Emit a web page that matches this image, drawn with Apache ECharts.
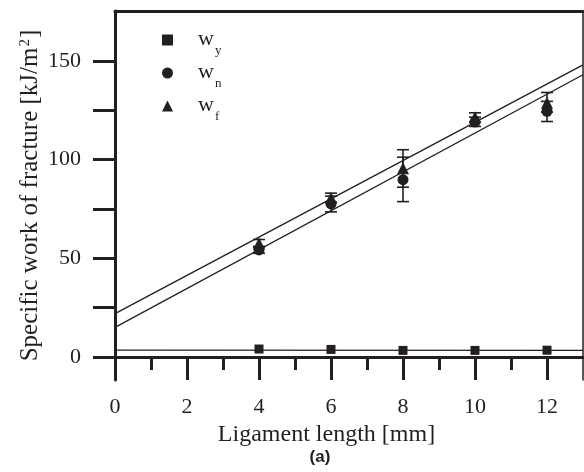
<!DOCTYPE html>
<html>
<head>
<meta charset="utf-8">
<script src="https://cdn.jsdelivr.net/npm/echarts@6/dist/echarts.min.js"></script>
<style>html,body{margin:0;padding:0;background:#fff;}#c{width:584px;height:472px;}</style>
</head>
<body>
<div id="c"></div>
<script>
// ---- data ----
const ligament = [4, 6, 8, 10, 12];
const wy = [4.0, 3.8, 3.3, 3.3, 3.4];
const wn = [54.2, 77.5, 89.8, 119.0, 124.5];
const wnLow = [52.5, 73.5, 78.7, 116.8, 119.3];
const wnHigh = [56.0, 81.5, 105.0, 121.5, 129.5];
const wf = [57.5, 80.5, 95.6, 121.4, 128.8];
const wfLow = [55.5, 78.5, 86.0, 119.0, 124.0];
const wfHigh = [59.5, 83.0, 101.2, 123.7, 134.0];
const fitX = [0, 13];
const wyFit = [3.4, 3.3];
const wnFit = [15.0, 143.0];
const wfFit = [21.9, 148.0];
const xTicks = [0, 2, 4, 6, 8, 10, 12];
const yTickLabels = [0, 50, 100, 150];
const yTicks = [0, 25, 50, 75, 100, 125, 150];
const seriesNames = ['wy', 'wn', 'wf'];
const subs = {wy: 'y', wn: 'n', wf: 'f'};

const ink = '#231f20';
const serif = '"Liberation Serif", "DejaVu Serif", serif';

function pts(xs, ys) { return xs.map((x, i) => [x, ys[i]]); }
function errData(xs, lo, hi) { return xs.map((x, i) => [x, lo[i], hi[i]]); }
function errRender(params, api) {
  const x = api.value(0);
  const lo = api.coord([x, api.value(1)]);
  const hi = api.coord([x, api.value(2)]);
  const w = 6;
  const st = {stroke: ink, lineWidth: 1.6};
  return {type: 'group', children: [
    {type: 'line', shape: {x1: lo[0], y1: lo[1], x2: hi[0], y2: hi[1]}, style: st},
    {type: 'line', shape: {x1: lo[0] - w, y1: lo[1], x2: lo[0] + w, y2: lo[1]}, style: st},
    {type: 'line', shape: {x1: hi[0] - w, y1: hi[1], x2: hi[0] + w, y2: hi[1]}, style: st}
  ]};
}
function fitLine(ys) {
  return {type: 'line', data: pts(fitX, ys), symbol: 'none', silent: true,
    lineStyle: {color: ink, width: 1.3}, z: 3, legendHoverLink: false};
}

const chart = echarts.init(document.getElementById('c'), null, {renderer: 'canvas'});
chart.setOption({
  animation: false,
  backgroundColor: '#fff',
  grid: {left: 115, right: 1, top: 11, bottom: 92, containLabel: false},
  title: {text: '(a)', left: 315, top: 444, textAlign: 'center',
    textStyle: {fontFamily: '"Liberation Sans", Arial, sans-serif', fontWeight: 'bold', fontSize: 17, color: ink}},
  legend: {
    orient: 'vertical', left: 157, top: 23, itemGap: 4, itemWidth: 11, itemHeight: 11,
    data: [
      {name: 'wy', icon: 'rect'},
      {name: 'wn', icon: 'circle'},
      {name: 'wf', icon: 'triangle'}
    ],
    formatter: n => '{w|w}{s|' + subs[n] + '}',
    textStyle: {
      padding: [0, 0, 0, 20],
      rich: {
        w: {fontFamily: serif, fontSize: 22, lineHeight: 24, color: ink, verticalAlign: 'top'},
        s: {fontFamily: serif, fontSize: 13, lineHeight: 14, color: ink, padding: [16, 0, 0, 1], verticalAlign: 'top'}
      }
    }
  },
  xAxis: [{
    type: 'value', min: 0, max: 13, interval: 2,
    position: 'bottom',
    axisLine: {onZero: true, lineStyle: {color: ink, width: 3}},
    axisTick: {show: true, customValues: xTicks, length: 23, lineStyle: {color: ink, width: 3}},
    minorTick: {show: true, splitNumber: 2, length: 13, lineStyle: {color: ink, width: 3}},
    axisLabel: {customValues: xTicks, margin: 16, fontFamily: serif, fontSize: 22, color: ink},
    splitLine: {show: false},
    name: 'Ligament length [mm]', nameLocation: 'middle', nameGap: 39,
    nameTextStyle: {fontFamily: serif, fontSize: 24, color: ink, padding: [0, 45, 0, 0]}
  }, {
    type: 'value', min: 0, max: 13, position: 'top',
    axisLine: {onZero: false, lineStyle: {color: ink, width: 3}},
    axisTick: {show: false}, axisLabel: {show: false}, splitLine: {show: false}
  }],
  yAxis: [{
    type: 'value', min: -11.7, max: 175.3,
    axisLine: {onZero: false, lineStyle: {color: ink, width: 3}},
    axisTick: {show: true, customValues: yTicks, length: 22, lineStyle: {color: ink, width: 3}},
    axisLabel: {customValues: yTickLabels, margin: 34, fontFamily: serif, fontSize: 22, color: ink},
    splitLine: {show: false},
    name: '{a|Specific work of fracture [kJ/m}{b|2}{a|]}', nameLocation: 'middle', nameGap: 72,
    nameMoveOverlap: false,
    nameTextStyle: {rich: {
      a: {fontFamily: serif, fontSize: 25, color: ink},
      b: {fontFamily: serif, fontSize: 15, color: ink, verticalAlign: 'top', padding: [0, 1, 10, 1]}
    }}
  }, {
    type: 'value', min: -11.7, max: 175.3, position: 'right',
    axisLine: {show: true, onZero: false, lineStyle: {color: ink, width: 1.5}},
    axisTick: {show: false}, axisLabel: {show: false}, splitLine: {show: false}
  }],
  series: [
    Object.assign(fitLine(wyFit), {name: 'fit-y'}),
    Object.assign(fitLine(wnFit), {name: 'fit-n'}),
    Object.assign(fitLine(wfFit), {name: 'fit-f'}),
    {type: 'custom', name: 'err-n', renderItem: errRender, data: errData(ligament, wnLow, wnHigh), z: 4, silent: true},
    {type: 'custom', name: 'err-f', renderItem: errRender, data: errData(ligament, wfLow, wfHigh), z: 4, silent: true},
    {type: 'scatter', name: 'wy', symbol: 'rect', symbolSize: 9, data: pts(ligament, wy), itemStyle: {color: ink, opacity: 1}, z: 5},
    {type: 'scatter', name: 'wn', symbol: 'circle', symbolSize: 11, data: pts(ligament, wn), itemStyle: {color: ink, opacity: 1}, z: 5},
    {type: 'scatter', name: 'wf', symbol: 'triangle', symbolSize: 12, data: pts(ligament, wf), itemStyle: {color: ink, opacity: 1}, z: 5}
  ]
});
</script>
</body>
</html>
